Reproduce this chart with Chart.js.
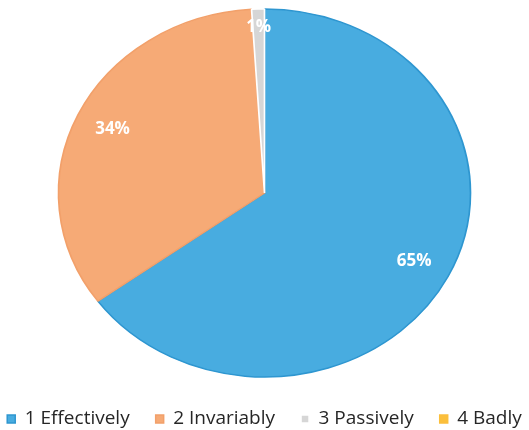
<!DOCTYPE html>
<html>
<head>
<meta charset="utf-8">
<script src="https://cdn.jsdelivr.net/npm/chart.js@4"></script>
<style>
  html, body { margin: 0; padding: 0; background: #fff; }
  #wrap { width: 529px; height: 430px; position: relative; }
</style>
</head>
<body>
<div id="wrap"><canvas id="myChart"></canvas></div>
<script>
// data
const categories  = ['1 Effectively', '2 Invariably', '3 Passively', '4 Badly'];
const shares      = [65, 34, 1, 0];
const sliceColors = ['#48ace0', '#f6aa76', '#d6d6d6', '#fbbf3c'];
const edgeColors  = ['#2e96d0', '#f2a06a', '#ffffff', '#fbbf3c'];

// the scanned pie is a bit wider than tall
const stretchX = 206 / 184;

const ellipsePie = {
    id: 'ellipsePie',
    beforeDatasetsDraw(chart) {
        const ctx = chart.ctx;
        const arc = chart.getDatasetMeta(0).data[0];
        ctx.save();
        ctx.translate(arc.x, arc.y);
        ctx.scale(stretchX, 1);
        ctx.translate(-arc.x, -arc.y);
    },
    afterDatasetsDraw(chart) {
        const ctx = chart.ctx;
        ctx.restore();
        // percent labels
        const meta = chart.getDatasetMeta(0);
        const total = shares.reduce((a, b) => a + b, 0);
        ctx.save();
        ctx.fillStyle = '#ffffff';
        ctx.font = 'bold 17px "Open Sans"';
        ctx.textAlign = 'center';
        ctx.textBaseline = 'middle';
        meta.data.forEach((arc, i) => {
            const v = shares[i];
            if (!v) return;
            const mid = (arc.startAngle + arc.endAngle) / 2;
            const r = arc.outerRadius - (v / total < 0.05 ? 18 : 34);
            const x = arc.x + Math.cos(mid) * r * stretchX;
            const y = arc.y + Math.sin(mid) * r;
            ctx.fillText(Math.round(v / total * 100) + '%', x, y);
        });
        ctx.restore();
    }
};

const data = {
    labels: categories,
    datasets: [{
        data: shares,
        backgroundColor: sliceColors,
        borderColor: edgeColors,
        borderWidth: 1.5,
        radius: 184
    }]
};

const config = {
    type: 'pie',
    data: data,
    options: {
        responsive: true,
        maintainAspectRatio: false,
        animation: false,
        layout: { padding: { top: 2.5, bottom: -8.5, left: -20, right: -20 } },
        plugins: {
            tooltip: { enabled: false },
            legend: {
                position: 'bottom',
                labels: {
                    boxWidth: 8,
                    boxHeight: 8,
                    padding: 26,
                    color: '#262626',
                    font: { family: '"Open Sans"', size: 19 }
                }
            }
        }
    },
    plugins: [ellipsePie]
};

const myChart = new Chart(document.querySelector('#myChart'), config);
</script>
</body>
</html>
